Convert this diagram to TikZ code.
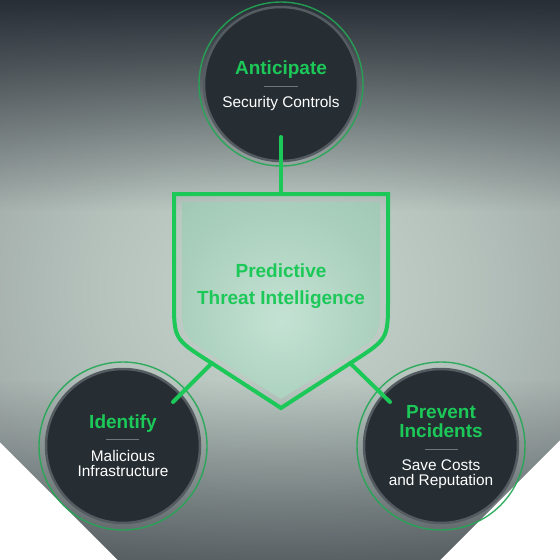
\documentclass[tikz,border=0pt]{standalone}
\usepackage{fontspec}
\setmainfont{Liberation Sans}
\usetikzlibrary{fadings}
\definecolor{grn}{RGB}{28,200,88}
\definecolor{ringgrn}{RGB}{34,168,84}
\definecolor{disc}{RGB}{38,46,52}
\definecolor{discedge}{RGB}{84,92,98}
\definecolor{divgray}{RGB}{112,118,124}
\definecolor{bgdark}{RGB}{40,46,54}
\definecolor{bga}{RGB}{200,214,207}
\definecolor{bgb}{RGB}{182,195,189}
\definecolor{bgc}{RGB}{158,168,166}
\definecolor{bgd}{RGB}{126,132,136}
\definecolor{bge}{RGB}{88,94,100}
\definecolor{bgf}{RGB}{44,50,58}
\definecolor{minta}{RGB}{196,226,211}
\definecolor{mintb}{RGB}{170,208,189}
\definecolor{mintc}{RGB}{148,192,170}
\pgfdeclareradialshading{bgshade}{\pgfpoint{0bp}{0bp}}{color(0bp)=(bga); color(10bp)=(bgb); color(20bp)=(bgc); color(30bp)=(bgd); color(40bp)=(bge); color(50bp)=(bgf)}
\pgfdeclareradialshading{mintshade}{\pgfpoint{0bp}{-5bp}}{color(0bp)=(minta); color(25bp)=(mintb); color(50bp)=(mintc)}
\tikzset{
  discnode/.style={circle, fill=disc, draw=discedge, line width=2.5pt, minimum size=154pt, inner sep=0pt},
  ringline/.style={draw=ringgrn, line width=1.4pt, opacity=0.9},
  link/.style={draw=grn, line width=4pt, line cap=round},
  title/.style={anchor=base, text=grn, font=\fontsize{19}{19}\selectfont\bfseries, inner sep=0pt},
  sub/.style={anchor=base, text=white, font=\fontsize{15.4}{15.4}\selectfont, inner sep=0pt},
  divider/.style={draw=divgray, line width=1pt},
}
\begin{document}
\begin{tikzpicture}[x=1pt,y=-1pt]
\useasboundingbox (0,0) rectangle (560,560);
\fill[white] (0,0) rectangle (560,560);
% background diamond
\begin{scope}
\clip (0,0) -- (560,0) -- (560,440) -- (440,560) -- (118,560) -- (0,442) -- cycle;
\shade[shading=bgshade] (-169,-90) rectangle (731,670);
\fill[bgdark, path fading=south] (0,0) rectangle (560,210);
\fill[bgdark, path fading=north, opacity=0.6] (0,380) rectangle (560,560);
\end{scope}
% shield
\shade[shading=mintshade] (182,202) -- (380,202) -- (380,300) .. controls (380,336) .. (347,357) -- (281,399) -- (215,357) .. controls (182,336) .. (182,300) -- cycle;
\draw[draw=grn, line width=4pt] (174,194) -- (388,194) -- (388,300) .. controls (388,339) .. (352,362) -- (281,408) -- (210,362) .. controls (174,339) .. (174,300) -- cycle;
\node[title] (pred1) at (281,277) {Predictive};
\node[title] (pred2) at (281,304) {Threat Intelligence};
\coordinate (shT) at (281,194);
\coordinate (shL) at (212,363);
\coordinate (shR) at (350,363);
% circles
\node[discnode] (ant) at (281,84) {};
\node[discnode] (idf) at (123,446) {};
\node[discnode] (prv) at (441,446) {};
\draw[ringline] (ant.center) circle (82);
\draw[ringline] (idf.center) circle (84);
\draw[ringline] (prv.center) circle (84);
% connectors
\coordinate (antE) at (281,137);
\coordinate (idfE) at (173,402);
\coordinate (prvE) at (390,402);
\draw[link] (antE) -- (shT);
\draw[link] (shL) -- (idfE);
\draw[link] (shR) -- (prvE);
% texts
\node[title] (antT) at (281,74) {Anticipate};
\draw[divider] (264,86) -- (298,86);
\node[sub] (antS) at (281,107) {Security Controls};
\node[title] (idfT) at (123,428) {Identify};
\draw[divider] (106,439) -- (139,439);
\node[sub] (idfS1) at (123,461) {Malicious};
\node[sub] (idfS2) at (123,476) {Infrastructure};
\node[title] (prvT1) at (441,418) {Prevent};
\node[title] (prvT2) at (441,437) {Incidents};
\draw[divider] (425,449) -- (458,449);
\node[sub] (prvS1) at (441,470) {Save Costs};
\node[sub] (prvS2) at (441,485) {and Reputation};
\end{tikzpicture}
\end{document}
